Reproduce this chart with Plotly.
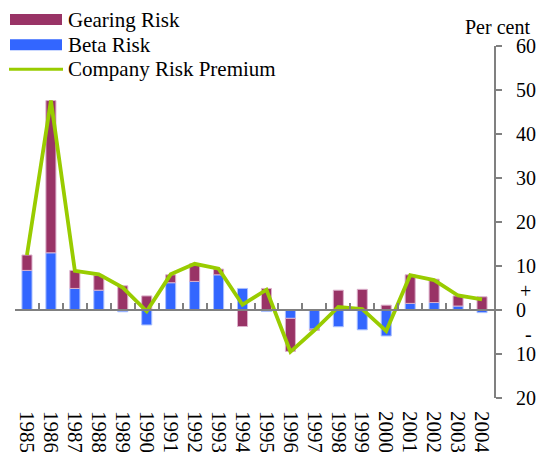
import plotly.graph_objects as go

years = [str(y) for y in range(1985, 2005)]
beta_risk = [9.0, 13.0, 4.9, 4.5, -0.4, -3.4, 6.2, 6.5, 8.0, 4.9,
             -0.35, -1.9, -4.35, -3.8, -4.5, -5.9, 1.5, 1.7, 0.9, -0.6]
gearing_risk = [3.5, 34.6, 4.1, 3.4, 5.5, 3.2, 1.8, 4.0, 1.3, -3.75,
                4.9, -7.5, -0.3, 4.5, 4.7, 1.1, 6.5, 5.3, 2.3, 3.0]
company_premium = [12.5, 47.6, 8.9, 8.1, 5.1, -0.3, 8.1, 10.5, 9.4, 1.2,
                   4.6, -9.5, -4.6, 0.7, 0.2, -4.8, 7.9, 6.8, 3.3, 2.4]
y_tickvals = [-20, -10, 0, 10, 20, 30, 40, 50, 60]
y_ticktext = ["20", "10", "0", "10", "20", "30", "40", "50", "60"]
y_range = [-20, 60]

GEAR = "#993366"
BETA = "#3366FF"
LINE = "#99CC00"
AXIS = "#808080"
FONT = "Liberation Serif"

W, H = 538, 452


def px_x(p):
    return p / W


def px_y(p):
    return 1 - p / H


x_domain = [px_x(15), px_x(494)]
y_domain = [px_y(398), px_y(46)]
zero_pos = y_domain[0] + (0 - y_range[0]) / (y_range[1] - y_range[0]) * (y_domain[1] - y_domain[0])

fig = go.Figure()
fig.add_trace(go.Bar(x=years, y=beta_risk, name="Beta Risk",
                     marker=dict(color=BETA, line=dict(color="#a9bfff", width=1))))
fig.add_trace(go.Bar(x=years, y=gearing_risk, name="Gearing Risk",
                     marker=dict(color=GEAR, line=dict(color="#dcb0cb", width=1))))
fig.add_trace(go.Scatter(x=years, y=company_premium, mode="lines", name="Company Risk Premium",
                         line=dict(color=LINE, width=3.8)))
# invisible trace to drive the zero-line axis with category boundary ticks
fig.add_trace(go.Scatter(x=years, y=company_premium, xaxis="x2", mode="markers",
                         marker=dict(opacity=0), hoverinfo="skip"))

# custom legend (symbols + labels)
legend_items = [("Gearing Risk", GEAR, "rect", 19.5),
                ("Beta Risk", BETA, "rect", 44.7),
                ("Company Risk Premium", LINE, "line", 69.3)]
shapes = []
annotations = []
for label, color, kind, cy in legend_items:
    if kind == "rect":
        shapes.append(dict(type="rect", xref="paper", yref="paper",
                           x0=px_x(10), x1=px_x(62), y0=px_y(cy - 5.5), y1=px_y(cy + 5.5),
                           fillcolor=color, line=dict(width=0)))
    else:
        shapes.append(dict(type="line", xref="paper", yref="paper",
                           x0=px_x(9), x1=px_x(63), y0=px_y(cy), y1=px_y(cy),
                           line=dict(color=color, width=3)))
    annotations.append(dict(text=label, xref="paper", yref="paper", x=px_x(66), y=px_y(cy),
                            xanchor="left", yanchor="middle", showarrow=False,
                            font=dict(size=21, family=FONT, color="black")))

annotations += [
    dict(text="Per cent", xref="paper", yref="paper", x=px_x(532), y=px_y(27.5),
         xanchor="right", yanchor="middle", showarrow=False, font=dict(size=20)),
    dict(text="+", xref="paper", yref="y", x=px_x(525), y=4.3, xanchor="center",
         yanchor="middle", showarrow=False, font=dict(size=20)),
    dict(text="-", xref="paper", yref="y", x=px_x(528), y=-5.4, xanchor="center",
         yanchor="middle", showarrow=False, font=dict(size=20)),
]

fig.update_layout(
    width=W, height=H,
    margin=dict(l=0, r=0, t=0, b=0),
    paper_bgcolor="white", plot_bgcolor="white",
    font=dict(family=FONT, size=20, color="black"),
    barmode="relative", bargap=0.58,
    showlegend=False,
    shapes=shapes,
    annotations=annotations,
    xaxis=dict(type="category", categoryorder="array", categoryarray=years,
               domain=x_domain, range=[-0.5, 19.5], automargin=False,
               showline=False, showgrid=False, zeroline=False,
               tickmode="array", tickvals=years, ticktext=years,
               ticks="", tickangle=90, ticklabelstandoff=12,
               tickfont=dict(size=21, family=FONT)),
    xaxis2=dict(type="category", categoryorder="array", categoryarray=years,
                overlaying="x", anchor="free", position=zero_pos, side="bottom",
                domain=x_domain, range=[-0.5, 19.5], automargin=False,
                showline=True, linecolor=AXIS, linewidth=2,
                ticks="inside", tickson="boundaries", ticklen=6, tickwidth=2,
                tickcolor=AXIS, showticklabels=False, showgrid=False, zeroline=False),
    yaxis=dict(side="right", domain=y_domain, range=y_range, automargin=False,
               tickmode="array", tickvals=y_tickvals, ticktext=y_ticktext,
               showline=True, linecolor=AXIS, linewidth=2, ticks="outside",
               ticklen=6, tickwidth=2, tickcolor=AXIS, showgrid=False, zeroline=False,
               ticklabelstandoff=10, tickfont=dict(size=20, family=FONT)),
)

fig.write_html("out.html", config={"displayModeBar": False},
               post_script="document.body.style.margin='0';document.body.style.overflow='hidden';")
